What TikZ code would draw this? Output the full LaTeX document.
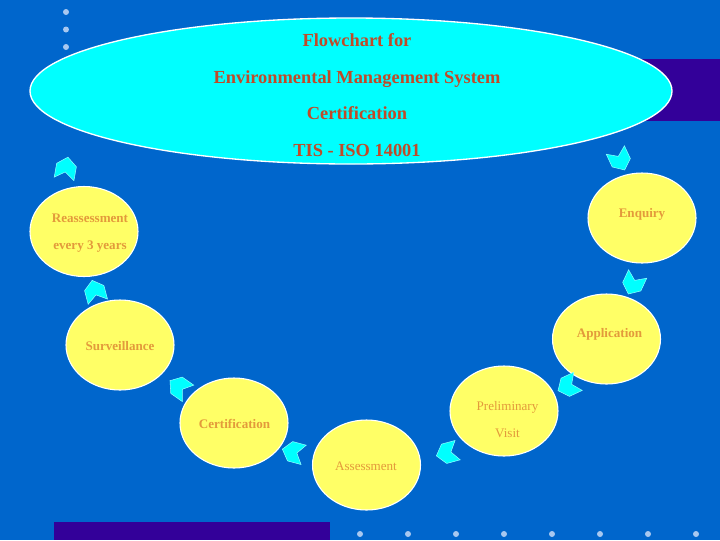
\documentclass[tikz,border=0pt]{standalone}
\usepackage{fontspec}
\setmainfont{Liberation Serif}
\usetikzlibrary{shapes.geometric}
\definecolor{bgblue}{HTML}{0066CC}
\definecolor{deeppurple}{HTML}{330099}
\definecolor{dotblue}{HTML}{A8C8F0}
\definecolor{titlered}{HTML}{C04A28}
\definecolor{labelorange}{HTML}{E39A3B}
\definecolor{bubbleyellow}{HTML}{FFFF66}
\definecolor{titlecyan}{HTML}{00FFFF}
\begin{document}
\begin{tikzpicture}[x=0.75pt,y=-0.75pt,
  bubble/.style={ellipse, fill=bubbleyellow, draw=white, line width=0.8pt,
    minimum width=81pt, minimum height=67.5pt, inner sep=0pt},
  boldlbl/.style={text=labelorange, align=center, inner sep=0pt,
    font=\fontsize{9.8}{20.25}\selectfont\bfseries},
  plainlbl/.style={text=labelorange, align=center, inner sep=0pt,
    font=\fontsize{9.8}{20.25}\selectfont},
  titletext/.style={text=titlered, align=center, inner sep=0pt,
    font=\fontsize{13.8}{27.5}\selectfont\bfseries},
  dotmark/.style={circle, fill=dotblue, inner sep=0pt, minimum size=4.5pt},
  chev/.pic={\filldraw[fill=titlecyan, draw=titlecyan!45!white, line width=0.4pt]
    (-11,10) -- (3,10) -- (11,0) -- (3,-10) -- (-11,-10) -- (-4,0) -- cycle;}
]
% background
\fill[bgblue] (0,0) rectangle (720,540);
\useasboundingbox (0,0) rectangle (720,540);
% dark bands
\fill[deeppurple] (600,59) rectangle (720,121);
\fill[deeppurple] (54,522) rectangle (330,540);
% dots
\foreach \yy [count=\i] in {12,29.5,47}
  \node[dotmark] (tdot\i) at (66,\yy) {};
\foreach \xx [count=\i] in {360,408,456,504,552,600,648,696}
  \node[dotmark] (bdot\i) at (\xx,534) {};
% title ellipse
\node[ellipse, fill=titlecyan, draw=white, line width=1pt,
  minimum width=481.5pt, minimum height=109.5pt, inner sep=0pt] (title) at (351,91) {};
\node[titletext] (titletxt) at (357,95)
  {Flowchart for\\Environmental Management System\\Certification\\TIS - ISO 14001};
% bubbles
\node[bubble] (enq) at (642,218) {};
\node[bubble] (app) at (606.5,339) {};
\node[bubble] (pre) at (504,411) {};
\node[bubble] (ass) at (366.5,465) {};
\node[bubble] (cer) at (234,423) {};
\node[bubble] (sur) at (120,345) {};
\node[bubble] (rea) at (84,231.5) {};
% labels
\node[boldlbl] (enqt) at (642,214) {Enquiry};
\node[boldlbl] (appt) at (609.5,334) {Application};
\node[plainlbl] (pret) at (507.5,419.5) {Preliminary\\Visit};
\node[plainlbl] (asst) at (366,466) {Assessment};
\node[boldlbl] (cert) at (234.5,424) {Certification};
\node[boldlbl] (surt) at (120,346) {Surveillance};
\node[boldlbl] (reat) at (90,233.5) {Reassessment\\every 3 years};
% chevron arrows
\pic[rotate=-65] at (620,160) {chev};
\pic[rotate=-115] at (633,284) {chev};
\pic[rotate=205] at (568,386) {chev};
\pic[rotate=195] at (447,453) {chev};
\pic[rotate=165] at (293,452) {chev};
\pic[rotate=145] at (179,387) {chev};
\pic[rotate=105] at (95,291) {chev};
\pic[rotate=80] at (66,168) {chev};
\end{tikzpicture}
\end{document}
